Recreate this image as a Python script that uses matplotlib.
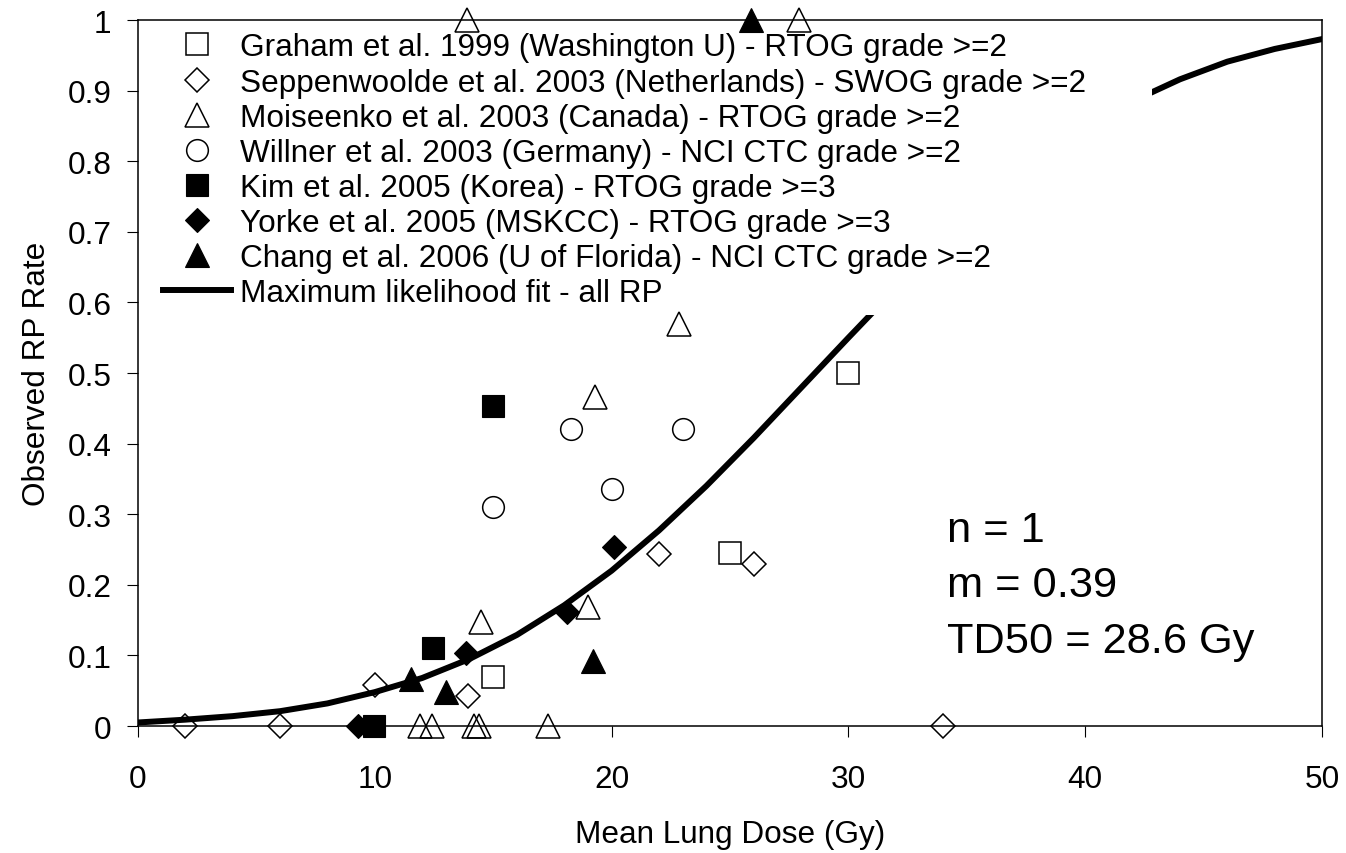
import matplotlib.pyplot as plt
from matplotlib.lines import Line2D

plt.rcParams['font.family'] = ['Liberation Sans', 'DejaVu Sans']

# values (mean lung dose in Gy, observed RP rate)
graham_dose = [15.0, 25.0, 30.0]
graham_rate = [0.07, 0.245, 0.50]

seppen_dose = [2.0, 6.0, 10.0, 13.95, 22.0, 26.0, 34.0]
seppen_rate = [0.0, 0.0, 0.058, 0.042, 0.244, 0.229, 0.0]

moisee_dose = [11.9, 12.4, 13.9, 14.2, 14.4, 14.5, 17.3, 19.0, 19.3, 22.85, 27.9]
moisee_rate = [0.0, 0.0, 1.0, 0.0, 0.0, 0.147, 0.0, 0.168, 0.466, 0.57, 1.0]

willner_dose = [15.0, 18.3, 20.0, 23.0]
willner_rate = [0.31, 0.421, 0.336, 0.421]

kim_dose = [9.95, 12.45, 15.0]
kim_rate = [0.0, 0.111, 0.453]

yorke_dose = [9.3, 13.85, 18.1, 20.1]
yorke_rate = [0.0, 0.104, 0.161, 0.253]

chang_dose = [11.55, 13.0, 19.2, 25.9]
chang_rate = [0.067, 0.048, 0.092, 1.0]

fit_dose = [0, 2, 4, 6, 8, 10, 12, 14, 16, 18, 20, 22, 24, 26,
            28, 30, 32, 34, 36, 38, 40, 42, 44, 46, 48, 50]
fit_rate = [0.005, 0.009, 0.014, 0.021, 0.032, 0.048, 0.068, 0.095, 0.129,
            0.171, 0.220, 0.277, 0.340, 0.408, 0.479, 0.550, 0.620, 0.686,
            0.746, 0.800, 0.847, 0.885, 0.916, 0.941, 0.959, 0.973]

labels = [
    'Graham et al. 1999 (Washington U) - RTOG grade >=2',
    'Seppenwoolde et al. 2003 (Netherlands) - SWOG grade >=2',
    'Moiseenko et al. 2003 (Canada) - RTOG grade >=2',
    'Willner et al. 2003 (Germany) - NCI CTC grade >=2',
    'Kim et al. 2005 (Korea) - RTOG grade >=3',
    'Yorke et al. 2005 (MSKCC) - RTOG grade >=3',
    'Chang et al. 2006 (U of Florida) - NCI CTC grade >=2',
    'Maximum likelihood fit - all RP',
]
fit_text = ['n = 1', 'm = 0.39', 'TD50 = 28.6 Gy']
xticks = [0, 10, 20, 30, 40, 50]
yticks = [0, 0.1, 0.2, 0.3, 0.4, 0.5, 0.6, 0.7, 0.8, 0.9, 1]
ytick_labels = ['0', '0.1', '0.2', '0.3', '0.4', '0.5', '0.6', '0.7', '0.8', '0.9', '1']

fs = 22.7

fig = plt.figure(figsize=(13.46, 8.54), dpi=100)
ax = fig.add_axes([0.1025, 0.1487, 0.8797, 0.8267])

fit_line, = ax.plot(fit_dose, fit_rate, color='black', lw=4.3, zorder=2)

open_style = dict(ls='none', mfc='none', mec='black', mew=1.1, clip_on=False, zorder=3)
fill_style = dict(ls='none', mfc='black', mec='black', mew=0.8, clip_on=False, zorder=3)

h1, = ax.plot(graham_dose, graham_rate, marker='s', ms=15.8, **open_style)
h2, = ax.plot(seppen_dose, seppen_rate, marker='D', ms=12.2, **open_style)
h3, = ax.plot(moisee_dose, moisee_rate, marker='^', ms=17.2, **open_style)
h4, = ax.plot(willner_dose, willner_rate, marker='o', ms=15.6, **open_style)
h5, = ax.plot(kim_dose, kim_rate, marker='s', ms=15.8, **fill_style)
h6, = ax.plot(yorke_dose, yorke_rate, marker='D', ms=12.4, **fill_style)
h7, = ax.plot(chang_dose, chang_rate, marker='^', ms=17.2, **fill_style)

ax.set_xlim(0, 50)
ax.set_ylim(0, 1)
ax.set_xticks(xticks)
ax.set_yticks(yticks)
ax.set_yticklabels(ytick_labels)
ax.tick_params(axis='both', direction='out', length=8, width=0.8, labelsize=fs)
ax.tick_params(axis='y', pad=11)
ax.tick_params(axis='x', pad=19)
for s in ax.spines.values():
    s.set_linewidth(1.1)

ax.set_xlabel('Mean Lung Dose (Gy)', fontsize=fs)
ax.set_ylabel('Observed RP Rate', fontsize=fs)
ax.xaxis.set_label_coords(0.5, -0.132)
ax.yaxis.set_label_coords(-0.0725, 0.5)

leg = ax.legend([h1, h2, h3, h4, h5, h6, h7, fit_line], labels,
                loc='upper left', bbox_to_anchor=(0.0158, 0.5, 0.8406, 0.4913),
                mode='expand', borderaxespad=0, borderpad=0.2,
                fontsize=fs, numpoints=1, handlelength=2.15, handletextpad=0.3,
                labelspacing=0.162, fancybox=False, framealpha=1)
leg.get_frame().set_facecolor('white')
leg.get_frame().set_edgecolor('none')
leg.set_zorder(2.5)

for i, line in enumerate(fit_text):
    ax.text(0.683, 0.2625 - 0.0787 * i, line, transform=ax.transAxes,
            fontsize=31.2, va='baseline', ha='left')

fig.savefig('out.png', dpi=100)
